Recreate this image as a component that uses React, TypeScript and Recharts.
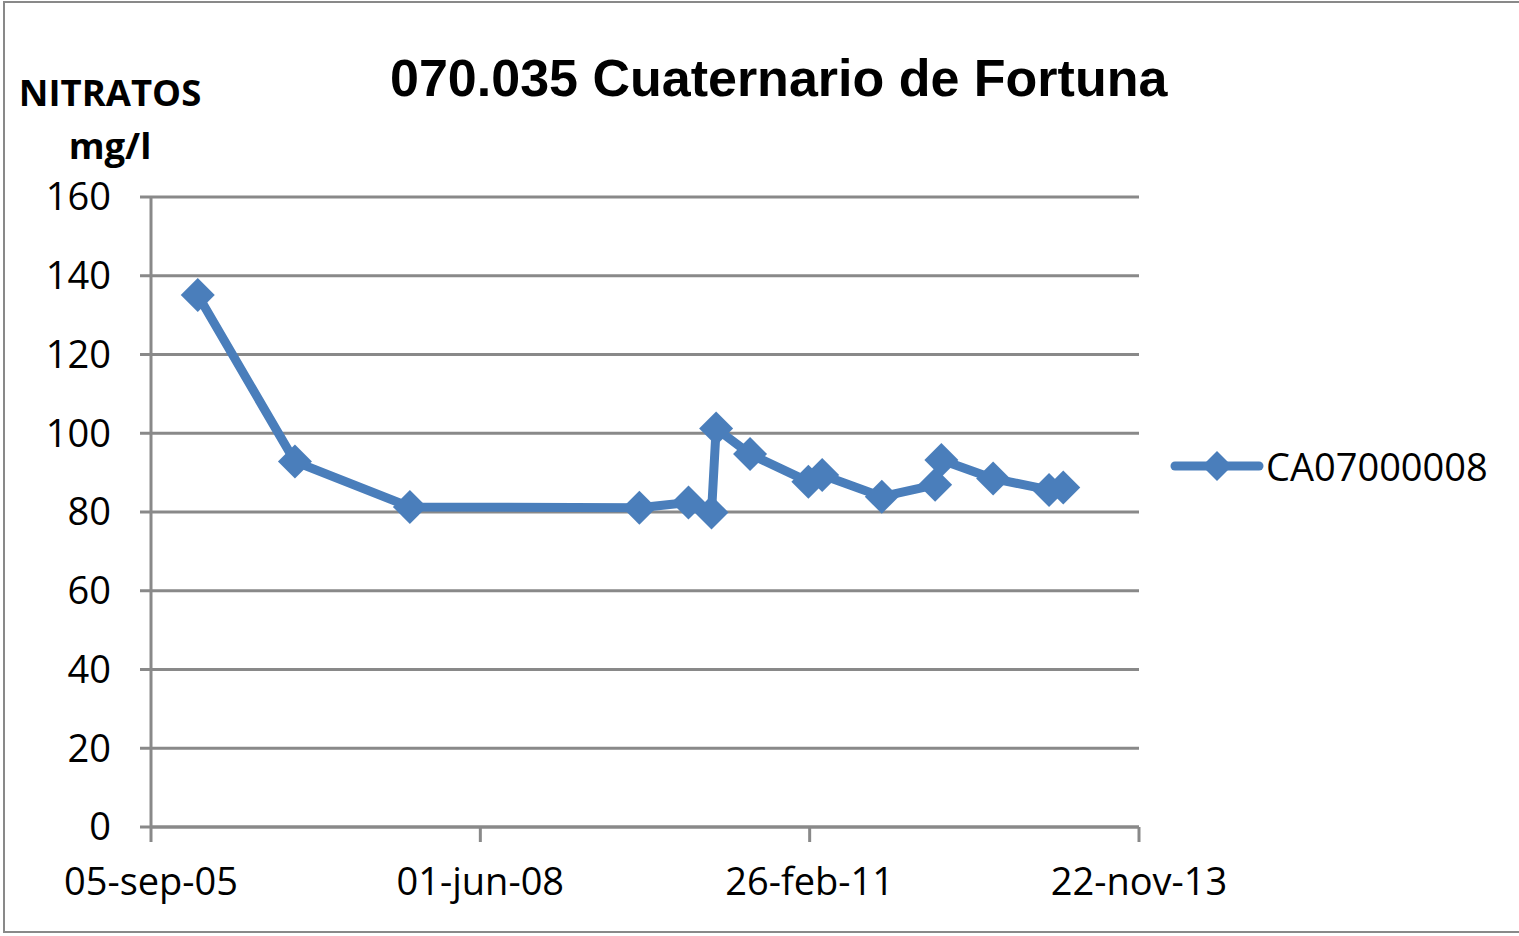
import React from 'react';
import { LineChart, Line, XAxis, YAxis, CartesianGrid, Legend } from 'recharts';

// muestreos del punto CA07000008
const FECHAS = [
  '2006-01-25', '2006-11-16', '2007-10-31', '2009-09-27', '2010-02-23',
  '2010-05-04', '2010-05-18', '2010-08-29', '2011-02-22', '2011-04-05',
  '2011-10-03', '2012-03-13', '2012-04-01', '2012-09-05', '2013-02-22',
  '2013-04-06',
];
const NITRATOS = [
  135.1, 92.8, 81.3, 81.1, 82.4, 79.9, 101.2, 94.7, 87.7, 89.4, 83.9, 86.9,
  93.2, 88.5, 85.6, 86.2,
];
const X_TICKS = ['2005-09-05', '2008-06-01', '2011-02-26', '2013-11-22'];
const Y_TICKS = [0, 20, 40, 60, 80, 100, 120, 140, 160];
const MESES = ['ene', 'feb', 'mar', 'abr', 'may', 'jun', 'jul', 'ago', 'sep', 'oct', 'nov', 'dic'];
const SERIE = 'CA07000008';

const AZUL = '#4A7EBB';
const GRIS = '#898989';
const FUENTE = '"Open Sans", sans-serif';

const data = FECHAS.map((f, i) => ({ t: Date.parse(f), v: NITRATOS[i] }));
const xTicks = X_TICKS.map((f) => Date.parse(f));

const fmtFecha = (t: number) => {
  const d = new Date(t);
  const dd = String(d.getUTCDate()).padStart(2, '0');
  const yy = String(d.getUTCFullYear() % 100).padStart(2, '0');
  return `${dd}-${MESES[d.getUTCMonth()]}-${yy}`;
};

const Rombo = (props: any) => {
  const { cx, cy, index } = props;
  if (cx == null || cy == null) return <g key={`r-${index}`} />;
  const r = 17;
  return (
    <polygon
      key={`r-${index}`}
      points={`${cx},${cy - r} ${cx + r},${cy} ${cx},${cy + r} ${cx - r},${cy}`}
      fill={AZUL}
    />
  );
};

const Leyenda = () => (
  <div style={{ display: 'flex', alignItems: 'center' }}>
    <svg width={94} height={36}>
      <line x1={5} y1={18} x2={89} y2={18} stroke={AZUL} strokeWidth={9} strokeLinecap="round" />
      <polygon points="47,3 62,18 47,33 32,18" fill={AZUL} />
    </svg>
    <span style={{ fontFamily: FUENTE, fontSize: 38, color: '#000', marginLeft: 2 }}>{SERIE}</span>
  </div>
);

const App: React.FC = () => {
  return (
    <div style={{ position: 'absolute', left: 0, top: 0, width: 1519, height: 936, background: '#fff', overflow: 'hidden' }}>
      <div
        style={{
          position: 'absolute',
          left: 3,
          top: 1,
          width: 1530,
          height: 932,
          border: `2px solid ${GRIS}`,
          boxSizing: 'border-box',
        }}
      />
      <div
        style={{
          position: 'absolute',
          left: 390,
          top: 52,
          fontFamily: '"Liberation Sans", Arial, sans-serif',
          fontWeight: 'bold',
          fontSize: 52,
          lineHeight: '52px',
          whiteSpace: 'nowrap',
        }}
      >
        070.035 Cuaternario de Fortuna
      </div>
      <div
        style={{
          position: 'absolute',
          left: 10,
          top: 66,
          width: 200,
          textAlign: 'center',
          fontFamily: FUENTE,
          fontWeight: 'bold',
          fontSize: 36.5,
          lineHeight: '53px',
        }}
      >
        NITRATOS
        <br />
        mg/l
      </div>
      <LineChart
        width={1519}
        height={936}
        data={data}
        margin={{ top: 197, right: 380, left: 0, bottom: 29 }}
        style={{ position: 'absolute', left: 0, top: 0 }}
      >
        <CartesianGrid vertical={false} stroke={GRIS} strokeWidth={3} />
        <XAxis
          type="number"
          dataKey="t"
          domain={[xTicks[0], xTicks[xTicks.length - 1]]}
          ticks={xTicks}
          tickFormatter={fmtFecha}
          height={80}
          tickSize={15}
          tickMargin={26}
          axisLine={{ stroke: GRIS, strokeWidth: 3 }}
          tickLine={{ stroke: GRIS, strokeWidth: 3 }}
          tick={{ fill: '#000', fontSize: 38, fontFamily: FUENTE }}
          interval={0}
        />
        <YAxis
          domain={[0, 160]}
          ticks={Y_TICKS}
          width={151}
          tickSize={11}
          tickMargin={29}
          axisLine={{ stroke: GRIS, strokeWidth: 3 }}
          tickLine={{ stroke: GRIS, strokeWidth: 3 }}
          tick={{ fill: '#000', fontSize: 38, fontFamily: FUENTE }}
          interval={0}
        />
        <Legend
          layout="horizontal"
          align="center"
          verticalAlign="middle"
          content={() => <Leyenda />}
          wrapperStyle={{ left: 1170, top: 440, width: 345 }}
        />
        <Line
          type="linear"
          dataKey="v"
          name={SERIE}
          stroke={AZUL}
          strokeWidth={9}
          strokeLinejoin="round"
          dot={Rombo}
          activeDot={false}
          isAnimationActive={false}
        />
      </LineChart>
    </div>
  );
};

export default App;
